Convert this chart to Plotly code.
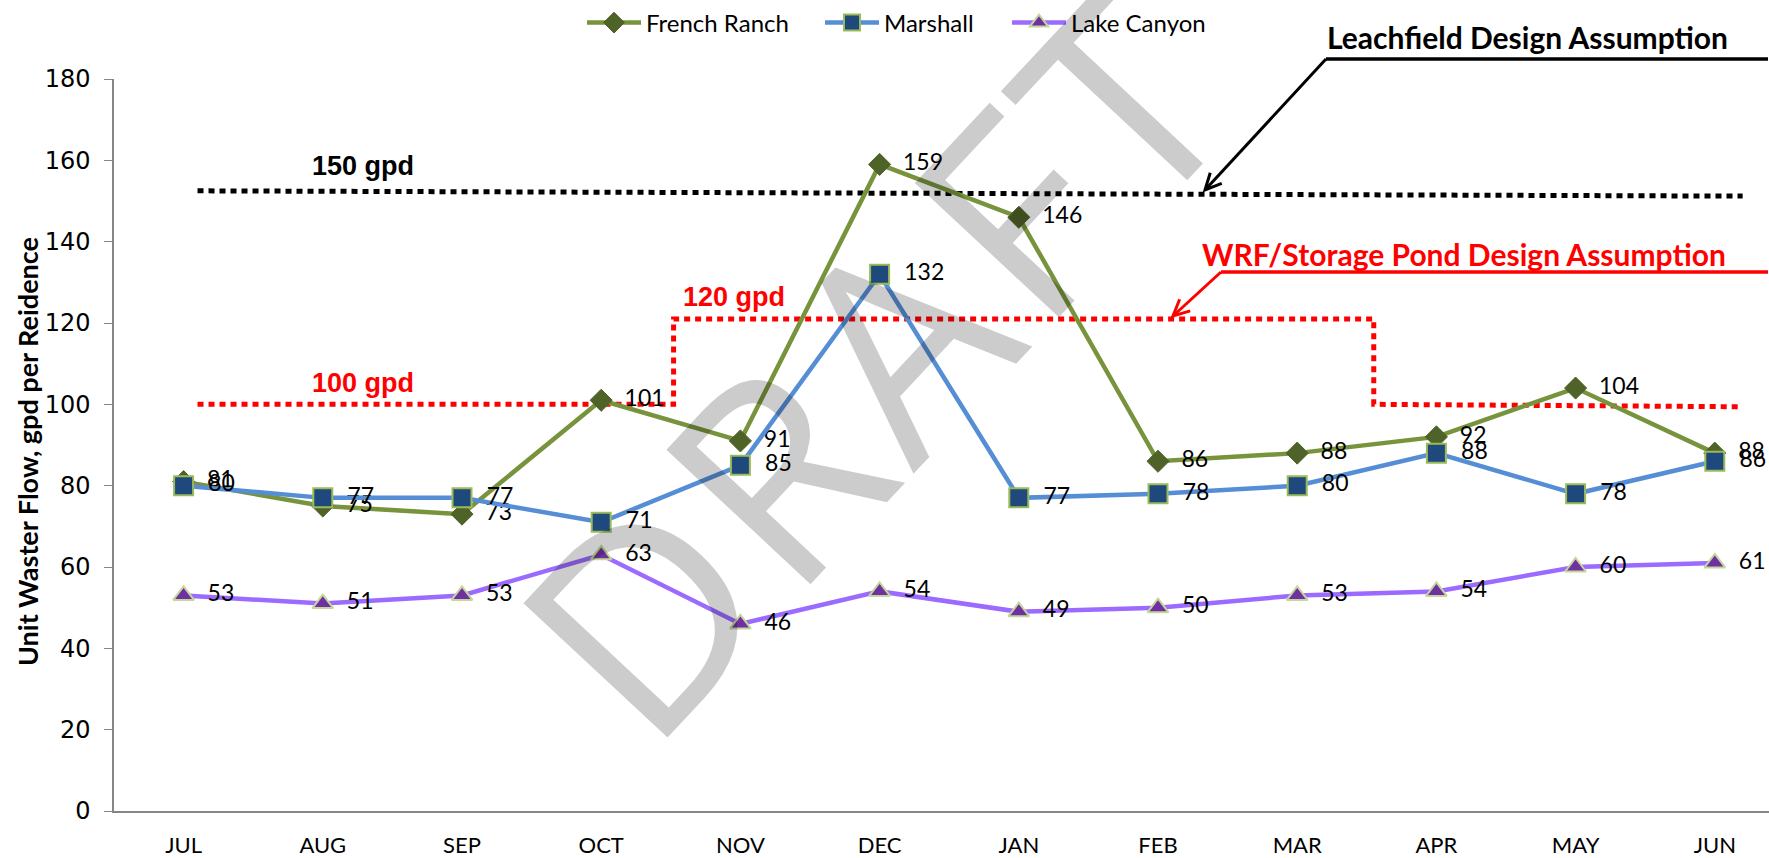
import plotly.graph_objects as go
import math

months = ["JUL", "AUG", "SEP", "OCT", "NOV", "DEC", "JAN", "FEB", "MAR", "APR", "MAY", "JUN"]
french_ranch = [81, 75, 73, 101, 91, 159, 146, 86, 88, 92, 104, 88]
marshall = [80, 77, 77, 71, 85, 132, 77, 78, 80, 88, 78, 86]
lake_canyon = [53, 51, 53, 63, 46, 54, 49, 50, 53, 54, 60, 61]

# design assumption lines (x in category-index units)
leach_x = [0.1, 11.2]
leach_y = [152.5, 151.2]
wrf_x = [0.1, 3.52, 3.52, 8.55, 8.55, 11.2]
wrf_y = [100, 100, 121, 121, 100, 99.4]

watermark = "DRAFT"

xidx = list(range(len(months)))

L, R, T, B = 114, 0, 79, 47
W, H = 1769, 858
PW, PH = W - L - R, H - T - B


def px(x):
    return (x - L) / PW


def py(y):
    return (H - B - y) / PH


CAL = "Lato, Open Sans, sans-serif"

fig = go.Figure()

fig.add_trace(go.Scatter(x=leach_x, y=leach_y, mode="lines", showlegend=False, hoverinfo="skip",
                         line=dict(color="#000000", width=5, dash="6px,5px")))
fig.add_trace(go.Scatter(x=wrf_x, y=wrf_y, mode="lines", showlegend=False, hoverinfo="skip",
                         line=dict(color="#FF0000", width=5, dash="6px,5px")))

lbl_font = dict(family=CAL, size=23, color="#000000")
fig.add_trace(go.Scatter(
    x=xidx, y=french_ranch, name="French Ranch", mode="lines+markers+text", legend="legend",
    line=dict(color="#77933C", width=4.5),
    marker=dict(symbol="diamond", size=17, color="#4F6228", line=dict(color="#4F6228", width=1)),
    texttemplate="  %{y}", textposition="middle right", textfont=lbl_font, cliponaxis=False))
fig.add_trace(go.Scatter(
    x=xidx, y=marshall, name="Marshall", mode="lines+markers+text", legend="legend2",
    line=dict(color="#558ED5", width=4.5),
    marker=dict(symbol="square", size=19, color="#1F497D", line=dict(color="#9BBB59", width=2)),
    texttemplate="  %{y}", textposition="middle right", textfont=lbl_font, cliponaxis=False))
fig.add_trace(go.Scatter(
    x=xidx, y=lake_canyon, name="Lake Canyon", mode="lines+markers+text", legend="legend3",
    line=dict(color="#9B6BFF", width=4.5),
    marker=dict(symbol="triangle-up", size=18, color="#7030A0", line=dict(color="#C3D69B", width=2)),
    texttemplate="  %{y}", textposition="middle right", textfont=lbl_font, cliponaxis=False))


def ann(text, x, y, font, **kw):
    d = dict(text=text, x=px(x), y=py(y), xref="paper", yref="paper", showarrow=False,
             xanchor="center", yanchor="middle", font=font)
    d.update(kw)
    return d


ARB = "Liberation Sans, Arial, sans-serif"
annotations = [
    ann("<b>150 gpd</b>", 363, 166, dict(family=ARB, size=27, color="#000000")),
    ann("<b>100 gpd</b>", 363, 383, dict(family=ARB, size=27, color="#FF0000")),
    ann("<b>120 gpd</b>", 734, 297, dict(family=ARB, size=27, color="#FF0000")),
    ann("<b>Leachfield Design Assumption</b>", 1527, 37, dict(family=CAL, size=30, color="#000000")),
    ann("<b>WRF/Storage Pond Design Assumption</b>", 1464, 254, dict(family=CAL, size=30, color="#FF0000")),
    ann("<b>Unit Waster Flow, gpd per Reidence</b>", 28, 452, dict(family=CAL, size=27, color="#000000"),
        textangle=-90),
]

# watermark letters placed along a rising baseline
wm_offsets = [-350, -156, 26, 195, 350]
wm_ang = math.radians(47)
wm_cx, wm_cy = 878, 355
for ch, off in zip(watermark, wm_offsets):
    annotations.append(ann(ch, wm_cx + off * math.cos(wm_ang), wm_cy - off * math.sin(wm_ang),
                           dict(family="Open Sans, sans-serif", size=276, color="rgba(0,0,0,0.2)"),
                           textangle=-47))


def arrow_shapes(tail, tip, color):
    (x0, y0), (x1, y1) = tail, tip
    ang = math.atan2(y0 - y1, x0 - x1)
    hl = 18
    wings = []
    for d in (0.45, -0.45):
        wings.append((x1 + hl * math.cos(ang + d), y1 + hl * math.sin(ang + d)))
    path1 = f"M {px(x0)} {py(y0)} L {px(x1)} {py(y1)}"
    path2 = (f"M {px(wings[0][0])} {py(wings[0][1])} L {px(x1)} {py(y1)} "
             f"L {px(wings[1][0])} {py(wings[1][1])}")
    return [dict(type="path", xref="paper", yref="paper", path=p,
                 line=dict(color=color, width=3)) for p in (path1, path2)]


shapes = []
shapes.append(dict(type="line", xref="paper", yref="paper", x0=px(1326), x1=px(1768), y0=py(59), y1=py(59),
                   line=dict(color="#000000", width=3.5)))
shapes.append(dict(type="line", xref="paper", yref="paper", x0=px(1221), x1=px(1768), y0=py(272), y1=py(272),
                   line=dict(color="#FF0000", width=3.5)))
shapes += arrow_shapes((1326, 59), (1205, 190), "#000000")
shapes += arrow_shapes((1221, 272), (1173, 316), "#FF0000")


def legend_at(x_left):
    return dict(orientation="h", x=px(x_left), xanchor="left", y=py(23), yanchor="middle",
                font=dict(family=CAL, size=24, color="#000000"), itemwidth=54,
                bgcolor="rgba(0,0,0,0)", borderwidth=0)


fig.update_layout(
    width=W, height=H,
    margin=dict(l=L, r=R, t=T, b=B, pad=0),
    paper_bgcolor="white", plot_bgcolor="white",
    showlegend=True,
    legend=legend_at(582),
    legend2=legend_at(820),
    legend3=legend_at(1007),
    annotations=annotations,
    shapes=shapes,
    xaxis=dict(range=[-0.5, (W - L) / 139.2 - 0.5], tickvals=xidx, ticktext=months, automargin=False,
               showgrid=False, zeroline=False, showline=True, linecolor="#868686", linewidth=1.5,
               ticks="outside", ticklen=14, tickcolor="rgba(0,0,0,0)",
               tickfont=dict(family=CAL, size=22, color="#000000")),
    yaxis=dict(range=[0, 180], dtick=20, showgrid=False, zeroline=False, showline=True, automargin=False,
               linecolor="#868686", linewidth=1.5, ticks="outside", ticklen=8, tickcolor="#868686",
               ticklabelstandoff=9,
               tickfont=dict(family="DejaVu Sans, sans-serif", size=24, color="#000000")),
)

fig.write_html("out.html", config={"displayModeBar": False},
               post_script="document.body.style.margin='0px';")
